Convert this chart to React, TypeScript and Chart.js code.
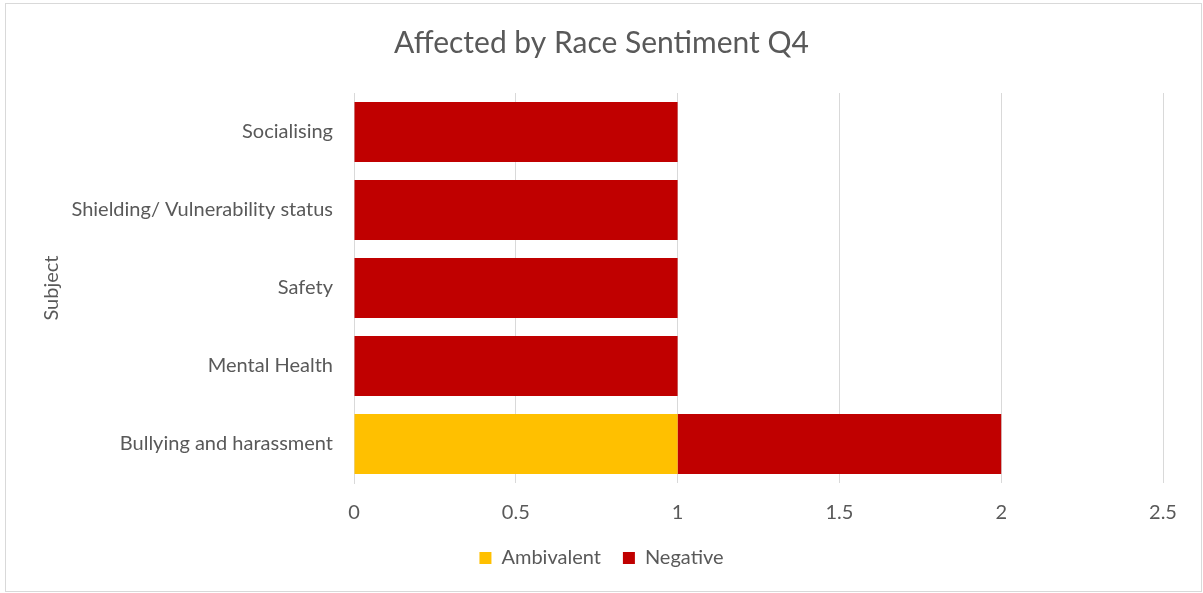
import { useEffect, useRef } from "react";
import { Chart, registerables } from "chart.js";

Chart.register(...registerables);

// Subjects listed top to bottom
const subjects = [
  "Socialising",
  "Shielding/ Vulnerability status",
  "Safety",
  "Mental Health",
  "Bullying and harassment",
];
const ambivalent = [0, 0, 0, 0, 1];
const negative = [1, 1, 1, 1, 1];
const xTicks = [0, 0.5, 1, 1.5, 2, 2.5];

const TEXT = "#595959";
const GRID = "#d9d9d9";
const FONT = "Lato";

export default function App() {
  const canvasRef = useRef<HTMLCanvasElement | null>(null);

  useEffect(() => {
    document.body.style.margin = "0";
    const canvas = canvasRef.current;
    if (!canvas) return;
    const chart = new Chart(canvas, {
      type: "bar",
      data: {
        labels: subjects,
        datasets: [
          {
            label: "Ambivalent",
            data: ambivalent,
            backgroundColor: "#FFC000",
            borderWidth: 0,
            barPercentage: 0.77,
            categoryPercentage: 1,
          },
          {
            label: "Negative",
            data: negative,
            backgroundColor: "#C00000",
            borderWidth: 0,
            barPercentage: 0.77,
            categoryPercentage: 1,
          },
        ],
      },
      options: {
        indexAxis: "y",
        animation: false,
        responsive: false,
        maintainAspectRatio: false,
        layout: { padding: { left: 40, right: 40, top: 0, bottom: 15 } },
        plugins: {
          title: {
            display: true,
            text: "Affected by Race Sentiment Q4",
            color: TEXT,
            font: { family: FONT, size: 30, weight: "normal", lineHeight: 1.2 },
            padding: { top: 25, bottom: 32 },
          },
          legend: {
            position: "bottom",
            labels: {
              color: TEXT,
              font: { family: FONT, size: 20 },
              boxWidth: 12,
              boxHeight: 12,
              padding: 22,
            },
          },
          tooltip: { enabled: false },
        },
        scales: {
          x: {
            type: "linear",
            stacked: true,
            min: xTicks[0],
            max: xTicks[xTicks.length - 1],
            afterBuildTicks: (scale: any) => {
              scale.ticks = xTicks.map((v) => ({ value: v }));
            },
            afterFit: (scale: any) => {
              scale.height = 43;
            },
            grid: { color: GRID, lineWidth: 1, drawTicks: false },
            border: { display: false },
            ticks: {
              color: TEXT,
              font: { family: FONT, size: 20 },
              padding: 18,
              callback: (value: any) => String(value),
            },
          },
          y: {
            stacked: true,
            afterFit: (scale: any) => {
              scale.width = 314;
            },
            grid: { display: false, drawTicks: false },
            border: { display: true, color: GRID },
            ticks: {
              color: TEXT,
              font: { family: FONT, size: 20 },
              padding: 21,
            },
            title: {
              display: true,
              text: "Subject",
              color: TEXT,
              font: { family: FONT, size: 20, lineHeight: 1.2 },
              padding: { top: 0, bottom: 0 },
            },
          },
        },
      },
    });
    return () => chart.destroy();
  }, []);

  return (
    <div style={{ position: "relative", width: 1203, height: 593, background: "#fff" }}>
      <canvas ref={canvasRef} width={1203} height={593} style={{ display: "block" }} />
      <div
        style={{
          position: "absolute",
          left: 5,
          top: 3,
          width: 1195,
          height: 587,
          border: `1px solid ${GRID}`,
          pointerEvents: "none",
        }}
      />
    </div>
  );
}
